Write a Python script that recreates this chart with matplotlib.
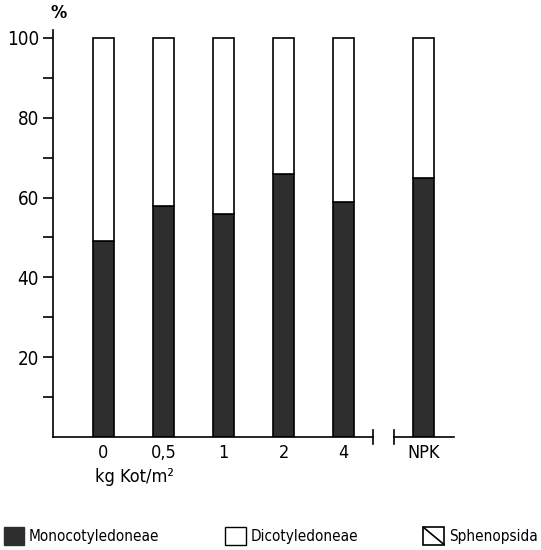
import matplotlib
matplotlib.use('Agg')
import matplotlib.pyplot as plt
from matplotlib.patches import Patch, Rectangle
from matplotlib.lines import Line2D
from matplotlib.legend_handler import HandlerBase

plt.rcParams['font.family'] = ['DejaVu Sans']
plt.rcParams['font.stretch'] = 'condensed'

# values (% of species)
categories = ['0', '0,5', '1', '2', '4', 'NPK']
positions = [0, 1, 2, 3, 4, 5.34]
mono = [49, 58, 56, 66, 59, 65]
dico = [100 - m for m in mono]

DARK = '#2e2e2e'


class DiagHandler(HandlerBase):
    # open box with a single diagonal, as in the printed key
    def create_artists(self, legend, orig, xd, yd, w, h, fs, trans):
        r = Rectangle((-xd, -yd), w, h, facecolor='white', edgecolor='black',
                      lw=1.2, transform=trans)
        l = Line2D([-xd, -xd + w], [-yd + h, -yd], color='black', lw=1.2,
                   transform=trans)
        return [r, l]


fig = plt.figure(figsize=(5.41, 5.50), dpi=100)
ax = fig.add_axes([53 / 541, 113 / 550, 401 / 541, 407 / 550])

ax.bar(positions, mono, width=0.35, color=DARK, edgecolor='black', linewidth=1.2)
ax.bar(positions, dico, bottom=mono, width=0.35, color='white',
       edgecolor='black', linewidth=1.2)

ax.set_xlim(-0.84, 5.84)
ax.set_ylim(0, 102)

for s in ['top', 'right', 'bottom']:
    ax.spines[s].set_visible(False)
ax.spines['left'].set_linewidth(1.2)

# broken x axis
kw = dict(color='black', lw=1.2, clip_on=False, transform=ax.get_xaxis_transform())
ax.plot([-0.84, 4.49], [0, 0], **kw)
ax.plot([4.49, 4.49], [-0.018, 0.018], **kw)
ax.plot([4.84, 5.84], [0, 0], **kw)
ax.plot([4.84, 4.84], [-0.018, 0.018], **kw)

ax.set_yticks([20, 40, 60, 80, 100])
ax.set_yticks([10, 30, 50, 70, 90], minor=True)
ax.tick_params(axis='y', which='both', direction='out', length=7, width=1.2,
               labelsize=13.5, pad=3)
ax.set_xticks(positions)
ax.set_xticklabels(categories, fontsize=13)
ax.tick_params(axis='x', length=0, pad=5)

ax.text(-0.74, 104.0, '%', fontsize=13, fontweight='bold', ha='center', va='bottom')
fig.text(134 / 541, 1 - 477 / 550, 'kg Kot/m²', fontsize=13, ha='center', va='center')

mono_h = Patch(facecolor=DARK, edgecolor=DARK, label='Monocotyledoneae')
dico_h = Patch(facecolor='white', edgecolor='black', label='Dicotyledoneae')
sphen_h = Patch(facecolor='white', edgecolor='black', label='Sphenopsida')
fig.legend(handles=[mono_h, dico_h, sphen_h], loc='center', ncol=3, frameon=False,
           bbox_to_anchor=(0.5, 1 - 536 / 550), fontsize=11,
           handlelength=1.35, handleheight=1.35, handletextpad=0.3,
           columnspacing=4.3, handler_map={sphen_h: DiagHandler()})

fig.savefig('out.png')
